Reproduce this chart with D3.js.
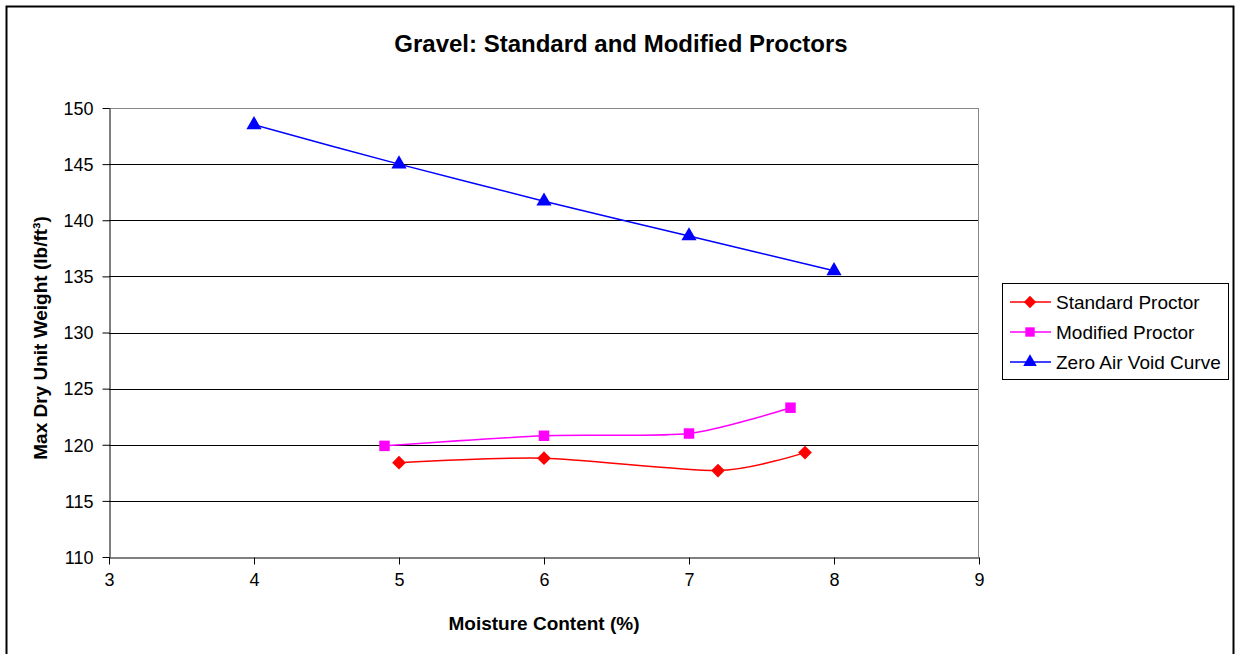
<!DOCTYPE html>
<html><head><meta charset="utf-8">
<script src="https://cdn.jsdelivr.net/npm/d3@7"></script>
<style>body{margin:0;background:#fff;} svg{display:block;font-family:"Liberation Sans",Arial,sans-serif;}</style>
</head><body>
<svg id="c" width="1236" height="654"></svg>
<script>
const xTicks = [3,4,5,6,7,8,9];
const yTicks = [110,115,120,125,130,135,140,145,150];
const stdX = [5, 6, 7.2, 7.8];
const stdY = [118.4, 118.8, 117.7, 119.3];
const modX = [4.9, 6, 7, 7.7];
const modY = [119.9, 120.8, 121.0, 123.3];
const zavX = [4, 5, 6, 7, 8];
const zavY = [148.5, 145.0, 141.7, 138.6, 135.5];
const seriesNames = ["Standard Proctor","Modified Proctor","Zero Air Void Curve"];

const svg = d3.select("#c");
const L=109, R=979, T=108, B=557;
const x = d3.scaleLinear().domain([3,9]).range([L,R]);
const y = d3.scaleLinear().domain([110,150]).range([B,T]);

// outer border
svg.append("rect").attr("x",6.5).attr("y",6.5).attr("width",1227).attr("height",660)
  .attr("fill","none").attr("stroke","#000").attr("stroke-width",2);

svg.append("text").attr("x",621).attr("y",52).attr("text-anchor","middle")
  .attr("font-size",24).attr("font-weight","bold").text("Gravel: Standard and Modified Proctors");

// gridlines
svg.append("g").selectAll("line").data(yTicks.filter(d=>d!==110)).join("line")
  .attr("x1",L).attr("x2",R).attr("y1",d=>Math.round(y(d))+0.5).attr("y2",d=>Math.round(y(d))+0.5)
  .attr("stroke",d=>d===150?"#888":"#000").attr("stroke-width",1);
svg.append("line").attr("x1",R-0.5).attr("x2",R-0.5).attr("y1",T).attr("y2",B).attr("stroke","#888");

// axes
const xa = svg.append("g").attr("transform",`translate(0,${B+0.5})`)
  .call(d3.axisBottom(x).tickValues(xTicks).tickSizeInner(7).tickSizeOuter(0).tickPadding(9).tickFormat(d3.format("d")));
const ya = svg.append("g").attr("transform",`translate(${L+0.5},0)`)
  .call(d3.axisLeft(y).tickValues(yTicks).tickSizeInner(7).tickSizeOuter(0).tickPadding(9).tickFormat(d3.format("d")));
[xa,ya].forEach(a=>{a.selectAll("text").attr("font-size",18).attr("fill","#000").attr("font-family","Liberation Sans, Arial, sans-serif");
  a.select(".domain").attr("stroke","#000"); a.selectAll(".tick line").attr("stroke","#000");});
ya.selectAll("text").attr("dy","0.35em");

svg.append("text").attr("x",544).attr("y",630).attr("text-anchor","middle")
  .attr("font-size",19).attr("font-weight","bold").text("Moisture Content (%)");
svg.append("text").attr("transform","translate(47,338) rotate(-90)").attr("text-anchor","middle")
  .attr("font-size",19).attr("font-weight","bold").text("Max Dry Unit Weight (lb/ft³)");

const line = d3.line().x(d=>x(d[0])).y(d=>y(d[1])).curve(d3.curveCardinal.tension(0.25));
const series = [
  {pts:d3.zip(stdX,stdY), color:"#ff0000", sym:d3.symbolDiamond2, size:120},
  {pts:d3.zip(modX,modY), color:"#ff00ff", sym:d3.symbolSquare, size:110},
  {pts:d3.zip(zavX,zavY), color:"#0000ff", sym:d3.symbolTriangle, size:100}
];
series.forEach(s=>{
  svg.append("path").attr("d",line(s.pts)).attr("fill","none").attr("stroke",s.color).attr("stroke-width",1.5);
  svg.append("g").selectAll("path").data(s.pts).join("path")
    .attr("transform",d=>`translate(${x(d[0])},${y(d[1])})`)
    .attr("d",d3.symbol().type(s.sym).size(s.size)).attr("fill",s.color);
});

// legend
const lg = svg.append("g");
lg.append("rect").attr("x",1002.5).attr("y",283.5).attr("width",226).attr("height",96)
  .attr("fill","#fff").attr("stroke","#000");
seriesNames.forEach((n,i)=>{
  const yy = 302 + i*30;
  const s = series[i];
  lg.append("line").attr("x1",1010).attr("x2",1051).attr("y1",yy).attr("y2",yy).attr("stroke",s.color).attr("stroke-width",1.5);
  lg.append("path").attr("transform",`translate(1030,${yy})`).attr("d",d3.symbol().type(s.sym).size(s.size*0.8)).attr("fill",s.color);
  lg.append("text").attr("x",1056).attr("y",yy).attr("dy","0.35em").attr("font-size",19).text(n);
});
</script>
</body></html>
